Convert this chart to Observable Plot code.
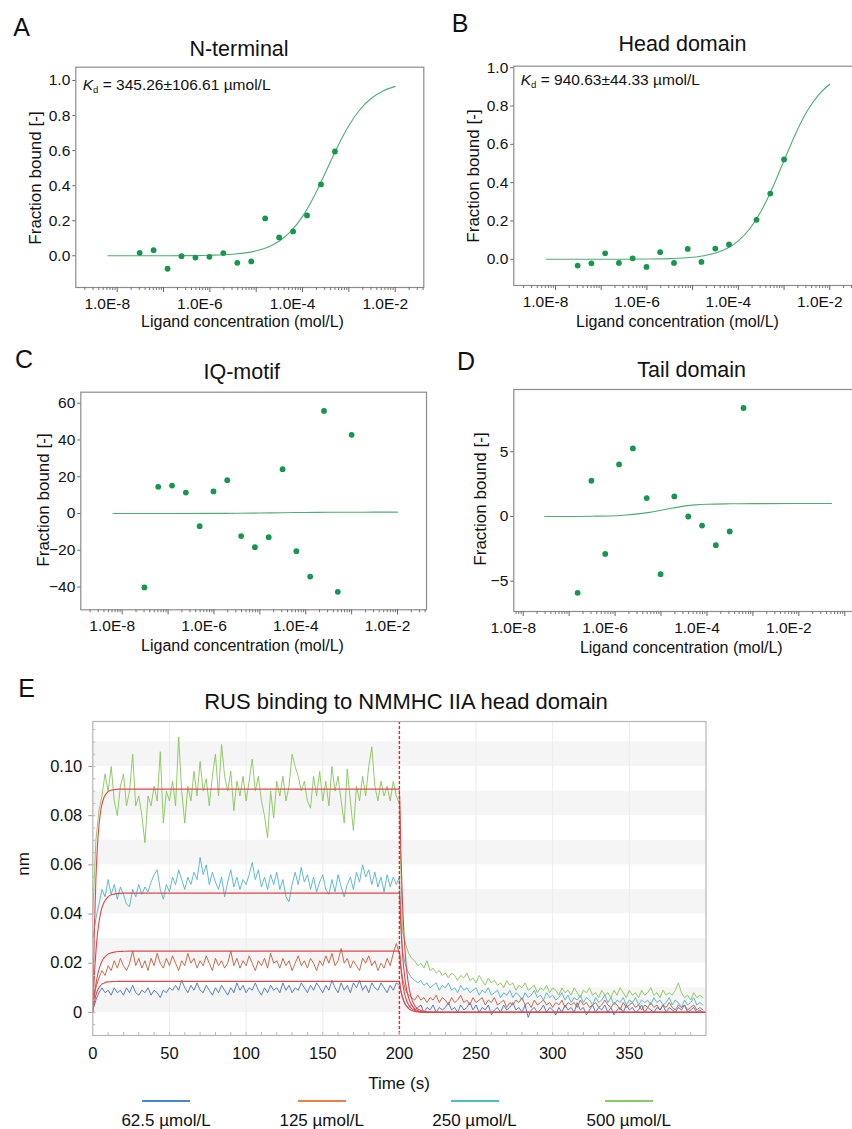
<!DOCTYPE html>
<html><head><meta charset="utf-8">
<script src="https://cdn.jsdelivr.net/npm/d3@7"></script>
<script src="https://cdn.jsdelivr.net/npm/@observablehq/plot@0.6"></script>
<style>
body{margin:0;background:#fff;}
#fig{position:relative;width:852px;height:1129px;overflow:hidden;background:#fff;}
</style></head><body><div id="fig"></div>
<script>
// ---------------- DATA ----------------
// Panel A: N-terminal
const concA = [3.05e-8, 6.1e-8, 1.22e-7, 2.44e-7, 4.88e-7, 9.77e-7, 1.95e-6, 3.91e-6, 7.81e-6, 1.56e-5, 3.13e-5, 6.25e-5, 1.25e-4, 2.5e-4, 5e-4];
const fracA = [0.017, 0.032, -0.074, -0.002, -0.010, -0.006, 0.015, -0.040, -0.032, 0.213, 0.105, 0.139, 0.230, 0.407, 0.595];
const fitLogA = [-8.2, -7.5, -7.0, -6.5, -6.0, -5.5, -5.0, -4.75, -4.5, -4.25, -4.0, -3.75, -3.5, -3.25, -3.0, -2.75, -2.5, -2.25, -2.0];
const fitFracA = [0.0000, 0.0001, 0.0003, 0.0009, 0.0029, 0.0091, 0.0282, 0.0490, 0.0839, 0.1401, 0.2246, 0.3400, 0.4780, 0.6196, 0.7434, 0.8375, 0.9016, 0.9422, 0.9666];
// Panel B: Head domain
const concB = [3.05e-8, 6.1e-8, 1.22e-7, 2.44e-7, 4.88e-7, 9.77e-7, 1.95e-6, 3.91e-6, 7.81e-6, 1.56e-5, 3.13e-5, 6.25e-5, 2.5e-4, 5e-4, 1e-3];
const fracB = [-0.033, -0.021, 0.031, -0.019, 0.005, -0.040, 0.037, -0.019, 0.054, -0.014, 0.056, 0.077, 0.206, 0.343, 0.521];
const fitLogB = [-8.2, -7.5, -7.0, -6.5, -6.0, -5.5, -5.0, -4.75, -4.5, -4.25, -4.0, -3.75, -3.5, -3.25, -3.0, -2.75, -2.5, -2.25, -2.0];
const fitFracB = [0.0000, 0.00003, 0.0001, 0.0003, 0.0011, 0.0034, 0.0105, 0.0186, 0.0326, 0.0565, 0.0961, 0.1591, 0.2518, 0.3744, 0.5154, 0.6543, 0.7710, 0.8569, 0.9140];
// Panel C: IQ-motif
const concC = [3.05e-8, 6.1e-8, 1.22e-7, 2.44e-7, 4.88e-7, 9.77e-7, 1.95e-6, 3.91e-6, 7.81e-6, 1.56e-5, 3.13e-5, 6.25e-5, 1.25e-4, 2.5e-4, 5e-4, 1e-3];
const fracC = [-40.2, 14.5, 15.2, 11.4, -6.9, 12.0, 18.1, -12.3, -18.3, -12.9, 24.1, -20.5, -34.3, 55.8, -42.6, 42.8];
const fitLogC = [-8.2, -7.0, -6.0, -5.5, -5.0, -4.5, -4.0, -3.5, -3.0, -2.5, -2.0];
const fitFracC = [0.0, 0.01, 0.05, 0.12, 0.25, 0.42, 0.56, 0.65, 0.70, 0.72, 0.73];
// Panel D: Tail domain
const concD = [1.53e-7, 3.05e-7, 6.1e-7, 1.22e-6, 2.44e-6, 4.88e-6, 9.77e-6, 1.95e-5, 3.91e-5, 7.81e-5, 1.56e-4, 3.13e-4, 6.25e-4];
const fracD = [-5.90, 2.76, -2.89, 4.02, 5.26, 1.42, -4.46, 1.55, 0.0, -0.70, -2.22, -1.16, 8.38];
const fitLogD = [-7.53, -7.0, -6.5, -6.0, -5.75, -5.5, -5.25, -5.0, -4.75, -4.5, -4.25, -4.0, -3.5, -3.0, -2.0, -1.29];
const fitFracD = [0.0, 0.0, 0.02, 0.06, 0.12, 0.20, 0.32, 0.48, 0.65, 0.80, 0.90, 0.95, 0.98, 0.99, 1.0, 1.0];

const decadeLabels = [1e-8, 1e-6, 1e-4, 1e-2];

// Panel E: sensorgrams, response in 10^-3 nm, sampled every 2 s
const sampleStep = 2;       // s
const dissocStart = 202;    // s, first dissociation sample
const concLabels = ["62.5 µmol/L", "125 µmol/L", "250 µmol/L", "500 µmol/L"];
const assocBlue = [1,5,8,10,8,9,7,10,8,9, 7,10,8,11,8,7,9,8,10,7, 9,8,6,9,8,10,9,11,9,13, 10,8,11,9,12,9,8,11,9,7, 10,8,11,9,7,10,8,12,9,11, 8,10,9,12,9,7,10,8,11,9, 10,8,12,9,11,8,10,9,12,10, 8,11,9,12,10,8,11,9,13,10, 8,12,9,11,8,12,10,13,9,11, 8,12,10,9,12,10,8,11,9,12, 11];
const dissocBlue = [6,3,2,3,1,2,3,0,2,1, 3,0,2,1,2,4,1,2,0,3, 1,2,4,1,3,0,2,1,3,-1, 1,2,0,3,1,2,4,1,2,0, 3,-2,1,2,0,1,3,0,2,1, -1,2,0,3,1,2,0,4,1,2, -1,1,3,0,2,1,3,0,2,-1, 1,2,0,3,1,2,0,1,3,0, 2,1,0,2,1,3,0,2,1,0, 2,1,3,0,1,2,0,1,0];
const assocBrown = [5,10,14,17,15,19,17,21,18,22, 19,17,20,25,19,22,18,21,17,22, 19,24,20,18,22,19,23,20,17,21, 19,24,20,22,18,21,19,23,20,17, 22,19,21,18,20,25,19,22,18,21, 19,23,20,17,21,19,22,18,24,20, 21,18,22,19,21,17,20,23,19,21, 18,22,20,17,21,19,23,20,24,19, 21,26,20,22,18,21,19,17,22,20, 23,19,21,17,20,18,22,19,24,28, 24];
const dissocBrown = [14,9,7,6,5,7,5,6,4,6, 5,7,4,6,5,3,6,4,5,7, 4,5,3,6,4,5,6,3,5,4, 6,3,4,5,2,4,3,5,4,6, 3,4,2,5,3,4,5,3,4,2, 4,3,5,2,4,3,4,2,5,3, 4,2,3,4,2,3,5,3,2,4, 3,1,4,2,3,4,2,3,1,3, 2,4,2,3,1,3,2,4,2,1, 3,2,3,1,2,3,1,2,1];
const assocCyan = [30,38,44,50,47,54,48,52,46,51, 48,44,43,50,47,52,48,51,49,53, 56,58,50,46,52,49,55,52,58,54, 50,55,52,57,54,63,56,60,52,57, 53,50,55,47,53,58,51,55,50,54, 52,56,61,54,58,51,55,50,56,52, 57,50,54,47,45,52,57,52,59,53, 56,50,55,49,53,56,50,48,54,49, 56,51,47,52,55,50,57,53,60,55, 58,52,57,51,55,49,56,51,55,52, 55];
const dissocCyan = [25,19,16,14,13,12,13,11,12,10, 11,12,9,11,10,12,9,10,8,11, 9,10,8,9,10,7,9,8,10,7, 8,9,6,8,7,9,6,8,7,5, 8,6,7,9,6,7,5,8,6,7, 5,6,8,5,7,4,6,5,7,4, 6,5,3,6,4,5,7,4,6,3, 5,4,6,3,5,4,6,3,5,4, 5,3,6,4,5,3,4,6,3,5, 4,2,5,3,4,6,3,4,3];
const assocGreen = [40,70,82,88,97,90,100,86,80,92, 97,84,90,105,84,88,80,69,88,84, 92,86,106,77,90,86,94,84,112,90, 77,92,86,98,88,102,90,95,84,96, 105,88,109,96,90,98,82,94,88,96, 86,94,103,90,96,86,80,71,90,79, 94,88,96,86,92,105,100,96,90,94, 86,83,96,88,98,86,94,84,100,90, 96,86,77,99,86,74,92,86,96,88, 100,108,92,86,94,88,92,86,94,88, 85];
const dissocGreen = [33,28,24,22,21,19,20,18,21,17, 18,16,17,15,16,14,16,15,13,15, 14,16,13,14,12,15,13,11,14,12, 13,11,12,10,13,11,12,9,11,10, 12,9,10,11,8,10,9,11,8,10, 9,7,10,8,9,7,10,8,6,9, 8,10,7,8,6,9,7,8,6,9, 7,10,8,6,9,7,8,6,9,7, 8,10,7,8,6,9,7,8,7,9, 12,8,6,7,5,8,6,7,6];
// 1:1 fit curves (10^-3 nm)
const fitTime = [0,1,2,3,4,5,6,7,8,10,12,14,17,20,25,30,60,100,150,200, 201,202,203,204,205,206,207,208,210,212,215,220,230,260,300,350,400];
const fitBlue  = [0,4.2,6.9,8.8,10.1,10.9,11.5,11.8,12.1,12.4,12.5,12.55,12.6,12.6,12.6,12.6,12.6,12.6,12.6,12.6, 8.9,6.3,4.4,3.1,2.2,1.5,1.1,0.8,0.4,0.19,0.07,0.01,0,0,0,0,0];
const fitBrown = [0,6.4,11.2,14.8,17.4,19.3,20.8,21.9,22.6,23.7,24.2,24.5,24.75,24.84,24.9,24.9,24.9,24.9,24.9,24.9, 17.6,12.4,8.7,6.2,4.3,3.0,2.1,1.5,0.75,0.37,0.13,0.02,0,0,0,0,0];
const fitCyan  = [0,14.3,24.4,31.5,36.5,40.1,42.6,44.3,45.5,47.0,47.8,48.1,48.4,48.5,48.5,48.5,48.5,48.5,48.5,48.5, 34.2,24.1,17.0,12.0,8.4,5.9,4.2,3.0,1.5,0.7,0.25,0.04,0,0,0,0,0];
const fitGreen = [0,32.9,53.8,67.3,75.8,81.3,84.7,86.9,88.3,89.8,90.4,90.6,90.8,90.8,90.8,90.8,90.8,90.8,90.8,90.8, 64.0,45.1,31.8,22.4,15.8,11.1,7.8,5.5,2.7,1.4,0.5,0.1,0,0,0,0,0];
const injectionEnd = 200;
const timeTicks = [0, 50, 100, 150, 200, 250, 300, 350];
const nmTicks = [0, 0.02, 0.04, 0.06, 0.08, 0.10];
const bandStarts = [0, 0.02, 0.04, 0.06, 0.08, 0.10];

// ---------------- HELPERS ----------------
const FONT = '"Liberation Sans", Arial, Helvetica, sans-serif';
const fig = document.getElementById("fig");
function place(node, left, top) {
  node.style.position = "absolute"; node.style.left = left + "px"; node.style.top = top + "px";
  fig.appendChild(node);
}
function txt(content, x, y, size, {anchor = "middle", rotate = false, html = false, color = "#111"} = {}) {
  const d = document.createElement("div");
  d.style.cssText = `position:absolute;left:${x}px;top:${y}px;font-size:${size}px;line-height:1;white-space:nowrap;font-family:${FONT};color:${color};`;
  const tx = anchor === "start" ? "0" : "-50%";
  d.style.transform = `translate(${tx},-50%)` + (rotate ? " rotate(-90deg)" : "");
  if (html) d.innerHTML = content; else d.textContent = content;
  fig.appendChild(d);
}
function logTicks(lo, hi) {
  const major = [], minor = [];
  for (let e = Math.floor(lo); e <= Math.ceil(hi); e++) {
    for (let m = 1; m < 10; m++) {
      const v = m * Math.pow(10, e), l = Math.log10(v);
      if (l < lo || l > hi) continue;
      (m === 1 ? major : minor).push(v);
    }
  }
  return {major, minor};
}
function doseChart({conc, frac, fitLog, fitFrac, xLog, yDomain, yTicks, yFormat, width, height, mt, mb, ml, mr}) {
  const pts = conc.map((c, i) => ({c, f: frac[i]}));
  const fit = fitLog.map((l, i) => ({c: Math.pow(10, l), f: fitFrac[i]}));
  const {major, minor} = logTicks(xLog[0], xLog[1]);
  return Plot.plot({
    width, height, marginTop: mt, marginBottom: mb, marginLeft: ml, marginRight: mr,
    style: {fontFamily: FONT, fontSize: "15.5px", color: "#111", background: "transparent", overflow: "visible"},
    x: {type: "log", domain: [Math.pow(10, xLog[0]), Math.pow(10, xLog[1])], label: null},
    y: {domain: yDomain, label: null},
    marks: [
      Plot.frame({stroke: "#8c8c8c", strokeWidth: 1.2}),
      Plot.axisY(yTicks, {tickSize: 3, tickPadding: 2.5, tickFormat: yFormat, fontSize: 15.5, stroke: "#666", label: null}),
      Plot.axisX(minor, {tickSize: 3, tickFormat: () => "", stroke: "#777", label: null}),
      Plot.axisX(major, {tickSize: 5, tickFormat: () => "", stroke: "#666", label: null}),
      Plot.axisX(decadeLabels, {tickSize: 0, tickPadding: 10, dx: -10, fontSize: 15.5,
        tickFormat: d => "1.0E" + Math.round(Math.log10(d)), label: null}),
      Plot.line(fit, {x: "c", y: "f", stroke: "#4cae72", strokeWidth: 1.1, curve: "monotone-x"}),
      Plot.dot(pts, {x: "c", y: "f", r: 2.9, fill: "#15974d", stroke: "none"})
    ]
  });
}

// ---------------- PANELS A-D ----------------
place(doseChart({conc: concA, frac: fracA, fitLog: fitLogA, fitFrac: fitFracA, xLog: [-8.894, -1.383],
  yDomain: [-0.181, 1.076], yTicks: [0, 0.2, 0.4, 0.6, 0.8, 1.0], yFormat: d3.format(".1f"),
  width: 430, height: 255, mt: 6.7, mb: 28, ml: 75.3, mr: 6.7}), 0, 60);
place(doseChart({conc: concB, frac: fracB, fitLog: fitLogB, fitFrac: fitFracB, xLog: [-8.912, -1.328],
  yDomain: [-0.137, 1.008], yTicks: [0, 0.2, 0.4, 0.6, 0.8, 1.0], yFormat: d3.format(".1f"),
  width: 430, height: 255, mt: 5.7, mb: 30, ml: 83.3, mr: 0}), 430, 60);
place(doseChart({conc: concC, frac: fracC, fitLog: fitLogC, fitFrac: fitFracC, xLog: [-8.902, -1.368],
  yDomain: [-52.4, 66.0], yTicks: [-40, -20, 0, 20, 40, 60], yFormat: d3.format("d"),
  width: 430, height: 255, mt: 6.7, mb: 30.7, ml: 80.3, mr: 4}), 0, 385);
place(doseChart({conc: concD, frac: fracD, fitLog: fitLogD, fitFrac: fitFracD, xLog: [-8.205, -0.658],
  yDomain: [-7.34, 9.81], yTicks: [-5, 0, 5], yFormat: d3.format("d"),
  width: 430, height: 258, mt: 6, mb: 30, ml: 83.3, mr: 0}), 430, 383);

// ---------------- PANEL E ----------------
function trace(assoc, dissoc) {
  return assoc.map((v, i) => ({t: i * sampleStep, v: v / 1000}))
    .concat(dissoc.map((v, i) => ({t: dissocStart + i * sampleStep, v: v / 1000})));
}
function fitSeries(vals) { return fitTime.map((t, i) => ({t, v: vals[i] / 1000})); }
const traceColors = ["#4672bd", "#bf5e3b", "#4fb3c7", "#84c556"];
const legendColors = ["#4a86d0", "#ee8147", "#47c1c7", "#84cc6b"];
const traces = [trace(assocBlue, dissocBlue), trace(assocBrown, dissocBrown), trace(assocCyan, dissocCyan), trace(assocGreen, dissocGreen)];
const fits = [fitSeries(fitBlue), fitSeries(fitBrown), fitSeries(fitCyan), fitSeries(fitGreen)];

const chartE = Plot.plot({
  width: 852, height: 350, marginTop: 6, marginBottom: 30, marginLeft: 92.3, marginRight: 146.5,
  style: {fontFamily: FONT, fontSize: "16.5px", color: "#111", background: "transparent", overflow: "visible"},
  x: {domain: [0, 400], label: null},
  y: {domain: [-0.0094, 0.1183], label: null},
  clip: true,
  marks: [
    Plot.rect(bandStarts, {y1: d => d, y2: d => d + 0.01, fill: "#f5f5f5"}),
    Plot.ruleX(timeTicks.filter(t => t > 0), {stroke: "#ececec", strokeWidth: 1}),
    ...traces.map((d, i) => Plot.line(d, {x: "t", y: "v", stroke: traceColors[i], strokeWidth: 0.9})),
    ...fits.map(d => Plot.line(d, {x: "t", y: "v", stroke: "#e0474b", strokeWidth: 1.1, curve: "monotone-x"})),
    Plot.ruleX([injectionEnd], {stroke: "#e3262b", strokeWidth: 1.4, strokeDasharray: "3,2"}),
    Plot.frame({stroke: "#b5b5b5", strokeWidth: 1.2}),
    Plot.axisY(d3.range(-0.005, 0.118, 0.005), {tickSize: -3, tickFormat: () => "", stroke: "#bbb", label: null}),
    Plot.axisY(nmTicks, {tickSize: 4, tickPadding: 6.5, stroke: "#999", fontSize: 16.5,
      tickFormat: d => d === 0 ? "0" : d.toFixed(2), label: null}),
    Plot.axisX(d3.range(10, 400, 10), {tickSize: -3, tickFormat: () => "", stroke: "#bbb", label: null}),
    Plot.axisX(timeTicks, {tickSize: 0, tickPadding: 12, fontSize: 16.5, label: null})
  ]
});
place(chartE, 0, 715);

// ---------------- TEXT ----------------
txt("A", 21.5, 27, 25); txt("B", 460, 22.5, 25); txt("C", 24, 359, 25); txt("D", 466, 360.5, 25); txt("E", 26.7, 687.5, 25);
txt("N-terminal", 239, 50, 21.5); txt("Head domain", 682.5, 45, 21.5);
txt("IQ-motif", 241.7, 373, 21.5); txt("Tail domain", 691.7, 370.5, 21.5);
txt("RUS binding to NMMHC IIA head domain", 406, 701.7, 22);
const xTitle = "Ligand concentration (mol/L)", yTitle = "Fraction bound [-]";
txt(xTitle, 242.5, 321.5, 16); txt(xTitle, 677.5, 321.5, 16); txt(xTitle, 242.5, 645.8, 16); txt(xTitle, 681.3, 648.3, 16);
txt(yTitle, 34.5, 177.5, 17, {rotate: true}); txt(yTitle, 472.5, 175.8, 17, {rotate: true});
txt(yTitle, 43.3, 500, 17, {rotate: true}); txt(yTitle, 479.7, 499, 17, {rotate: true});
const kd = v => `<i>K</i><span style="font-size:0.62em;vertical-align:-0.35em">d</span> = ${v} µmol/L`;
txt(kd("345.26±106.61"), 82.7, 86, 15.5, {anchor: "start", html: true});
txt(kd("940.63±44.33"), 520.7, 81, 15.5, {anchor: "start", html: true});
txt("Time (s)", 399, 1082.7, 17);
txt("nm", 23, 864, 17, {rotate: true});
// legend
const legendX = [166, 321.7, 474.5, 628.8];
legendX.forEach((x, i) => {
  const ln = document.createElement("div");
  ln.style.cssText = `position:absolute;left:${x - 24}px;top:1100px;width:48px;height:2px;background:${legendColors[i]};`;
  fig.appendChild(ln);
  txt(concLabels[i], x, 1120, 17);
});
</script></body></html>
